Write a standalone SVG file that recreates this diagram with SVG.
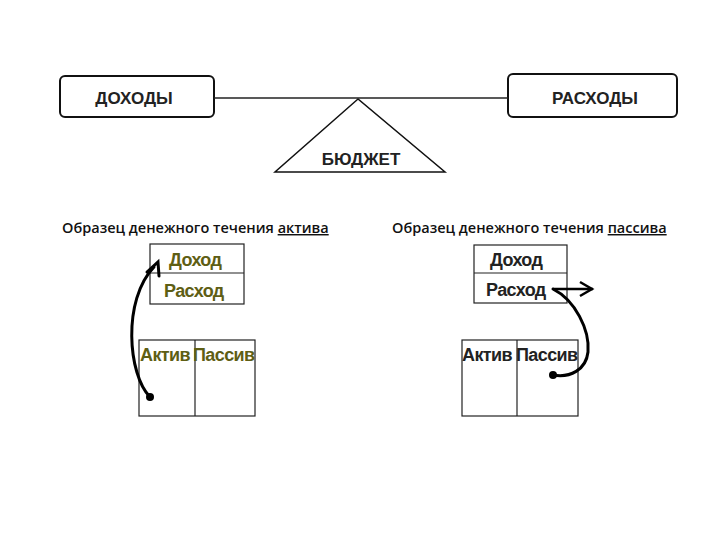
<svg xmlns="http://www.w3.org/2000/svg" width="720" height="540" viewBox="0 0 720 540">
<style>
.box{fill:#fff;stroke:#111;stroke-width:2}
.big{font-family:"Liberation Sans",Arial,sans-serif;font-size:17px;font-weight:bold;fill:#222;text-anchor:middle}
.head{font-family:"Open Sans","DejaVu Sans",sans-serif;font-size:14.5px;font-weight:600;fill:#111}
.tab{fill:#fff;stroke:#222;stroke-width:1.2}
.cell{font-family:"Liberation Sans",Arial,sans-serif;font-size:18px;font-weight:bold;letter-spacing:-0.6px}
.olive{fill:#5e5e14}
.blk{fill:#222}
.curve{fill:none;stroke:#000;stroke-width:3;stroke-linecap:round}
</style>
<rect width="720" height="540" fill="#fff"/>
<g id="dohody">
<rect class="box" x="60" y="76" width="154" height="41" rx="5"/>
<text class="big" x="134" y="104">ДОХОДЫ</text>
</g>
<g id="rashody">
<rect class="box" x="508" y="74" width="169" height="43" rx="5"/>
<text class="big" x="595" y="104">РАСХОДЫ</text>
</g>
<g id="budget">
<polygon points="358,99 275,172 445,172" fill="#fff" stroke="#111" stroke-width="1.5"/>
<text class="big" x="361" y="165">БЮДЖЕТ</text>
</g>
<g id="heading-left">
<text class="head" x="62" y="233">Образец денежного течения <tspan text-decoration="underline">актива</tspan></text>
</g>
<g id="heading-right">
<text class="head" x="392" y="233">Образец денежного течения <tspan text-decoration="underline">пассива</tspan></text>
</g>
<g id="left-top">
<rect class="tab" x="150" y="244" width="94" height="60"/>
<line x1="150" y1="273" x2="244" y2="273" stroke="#222" stroke-width="1.2"/>
<text class="cell olive" x="169" y="266">Доход</text>
<text class="cell olive" x="164" y="297">Расход</text>
</g>
<g id="left-bottom">
<rect class="tab" x="139" y="340" width="116" height="76"/>
<line x1="195" y1="340" x2="195" y2="416" stroke="#222" stroke-width="1.2"/>
<text class="cell olive" x="140" y="361">Актив</text>
<text class="cell olive" x="193" y="361">Пассив</text>
</g>
<g id="right-top">
<rect class="tab" x="474" y="245" width="93" height="58"/>
<line x1="474" y1="273" x2="567" y2="273" stroke="#222" stroke-width="1.2"/>
<text class="cell blk" x="490" y="266">Доход</text>
<text class="cell blk" x="486" y="296">Расход</text>
</g>
<g id="right-bottom">
<rect class="tab" x="462" y="340" width="116" height="76"/>
<line x1="517" y1="340" x2="517" y2="416" stroke="#222" stroke-width="1.2"/>
<text class="cell blk" x="462" y="361">Актив</text>
<text class="cell blk" x="516" y="361">Пассив</text>
</g>
<g id="connectors">
<line x1="214" y1="98" x2="508" y2="98" stroke="#222" stroke-width="1.5"/>
<path class="curve" d="M150,397 C128,375 122,300 154,267"/>
<path d="M147,272 L158,262 L159,276" fill="none" stroke="#000" stroke-width="3" stroke-linecap="round"/>
<circle cx="150" cy="397" r="4" fill="#000"/>
<path class="curve" d="M553,289 C575,300 590,330 588,352 C586,370 570,378 553,375"/>
<circle cx="553" cy="375" r="4" fill="#000"/>
<line x1="553" y1="289" x2="593" y2="289" stroke="#000" stroke-width="2.5"/>
<path d="M580,282 L592,289 L580,296" fill="none" stroke="#000" stroke-width="2.5"/>
</g>
</svg>
